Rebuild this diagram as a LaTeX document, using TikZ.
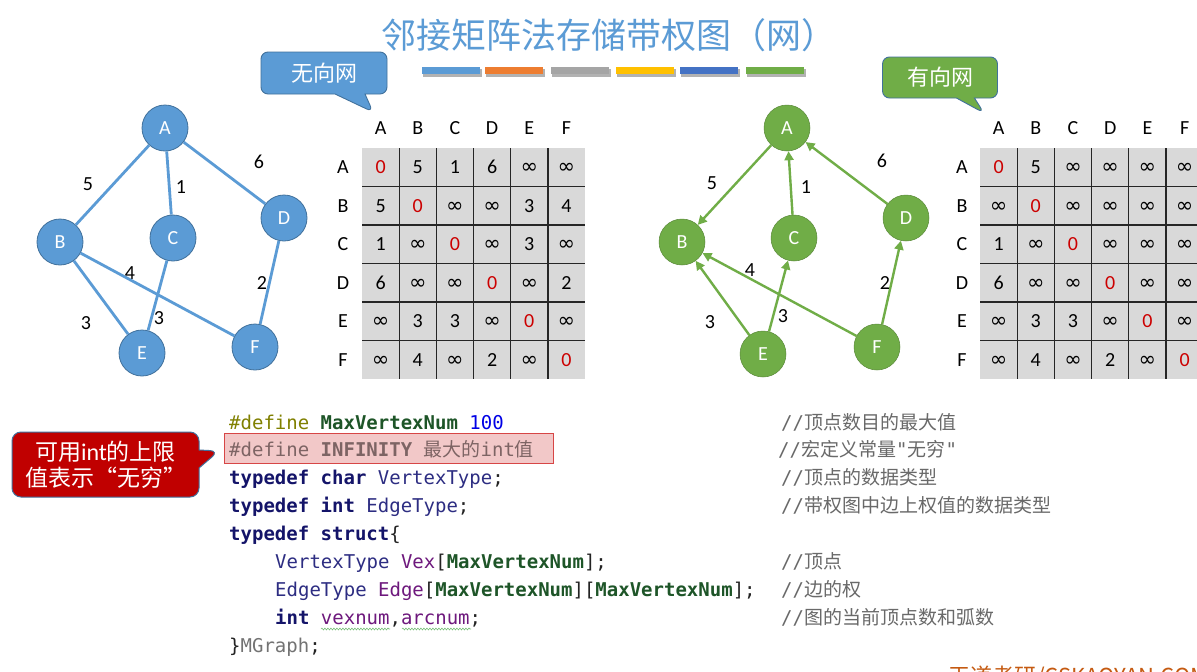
\documentclass[tikz,border=0pt]{standalone}
\usepackage{fontspec}
\usetikzlibrary{arrows.meta,shapes.callouts,decorations.pathmorphing}
\setmainfont{Carlito}
\newfontfamily\cjk{Noto Sans CJK SC}
\newfontfamily\mono{DejaVu Sans Mono}
\newfontfamily\symf{DejaVu Sans}
\definecolor{lblue}{RGB}{91,155,213}
\definecolor{bborder}{RGB}{65,113,156}
\definecolor{lgreen}{RGB}{112,173,71}
\definecolor{gborder}{RGB}{84,130,53}
\definecolor{cellgray}{RGB}{217,217,217}
\definecolor{zred}{RGB}{204,0,0}
\definecolor{barA}{RGB}{91,155,213}
\definecolor{barB}{RGB}{237,125,49}
\definecolor{barC}{RGB}{165,165,165}
\definecolor{barD}{RGB}{255,192,0}
\definecolor{barE}{RGB}{68,114,196}
\definecolor{barF}{RGB}{112,173,71}
\definecolor{calred}{RGB}{192,0,0}
\definecolor{cdef}{RGB}{128,128,0}
\definecolor{cmac}{RGB}{30,85,40}
\definecolor{cnum}{RGB}{0,0,230}
\definecolor{ckw}{RGB}{20,20,105}
\definecolor{ctype}{RGB}{45,45,130}
\definecolor{cvar}{RGB}{110,25,125}
\definecolor{cpunct}{RGB}{35,35,35}
\definecolor{cinf}{RGB}{125,100,100}
\definecolor{infbg}{RGB}{242,200,200}
\definecolor{infbd}{RGB}{215,70,70}
\definecolor{ccom}{RGB}{105,105,105}
\definecolor{cgray}{RGB}{115,115,115}
\definecolor{wavy}{RGB}{120,190,120}
\definecolor{wm}{RGB}{197,90,17}
\protected\def\zr{\textcolor{zred}{0}}
\protected\def\iy{{\symf\fontsize{21}{22}\selectfont ∞}}
\begin{document}
\begin{tikzpicture}[x=1pt,y=-1pt,
  vtxL/.style={circle,fill=lblue,draw=bborder,line width=0.8pt,minimum size=46pt,inner sep=0pt,text=white,font=\fontsize{20}{24}\selectfont},
  vtxR/.style={circle,fill=lgreen,draw=lgreen!80!black,line width=0.5pt,minimum size=46pt,inner sep=0pt,text=white,font=\fontsize{20}{24}\selectfont},
  edgeL/.style={draw=lblue,line width=2.8pt},
  edgeR/.style={draw=lgreen,line width=2.4pt,-{Triangle[length=9pt,width=9pt]}},
  wlab/.style={inner sep=0pt,font=\fontsize{20}{24}\selectfont},
  lab/.style={inner sep=0pt,text height=13pt,text depth=0pt,font=\fontsize{20}{24}\selectfont},
  cellt/.style={inner sep=0pt,text height=13pt,text depth=0pt,font=\fontsize{20}{24}\selectfont},
  gridline/.style={draw=black!85,line width=1.3pt},
  code/.style={anchor=base west,inner sep=0pt,font=\mono\fontsize{19}{22}\selectfont},
  comm/.style={anchor=base west,inner sep=0pt,text=ccom,font=\cjk\fontsize{19}{22}\selectfont},
  bar/.style={minimum width=58pt,minimum height=7pt,inner sep=0pt}
]
\useasboundingbox (0,0) rectangle (1197,672);
\fill[white] (0,0) rectangle (1197,672);

% title
\node[text=lblue,font=\cjk\fontsize{35}{40}\selectfont,inner sep=0pt] (title) at (609,35) {邻接矩阵法存储带权图（网）};
% colour bars
\foreach \c/\x [count=\i] in {barA/451,barB/514,barC/580,barD/645,barE/709,barF/775}{
  \fill[black!30] (\x-28,69) rectangle (\x+31,77);
  \node[bar,fill=\c] (bar\i) at (\x,70.5) {};
}

% callouts
\node[rectangle callout,rounded corners=7pt,fill=lblue,draw=bborder,line width=0.9pt,
  minimum width=126pt,minimum height=42pt,callout absolute pointer={(373,112)},callout pointer width=30pt,
  text=white,font=\cjk\fontsize{22}{26}\selectfont] (cL) at (324,73) {无向网};
\node[rectangle callout,rounded corners=7pt,fill=lgreen,draw=bborder,line width=0.9pt,
  minimum width=115pt,minimum height=41pt,callout absolute pointer={(984,113)},callout pointer width=18pt,
  text=white,font=\cjk\fontsize{22}{26}\selectfont] (cR) at (940,77.5) {有向网};

% left graph
\node[vtxL] (A) at (165,128) {A};
\node[vtxL] (B) at (60,242) {B};
\node[vtxL] (C) at (173,238) {C};
\node[vtxL] (D) at (284,218) {D};
\node[vtxL] (E) at (142,353) {E};
\node[vtxL] (F) at (255,347) {F};
\draw[edgeL] (A) -- (B);
\draw[edgeL] (A) -- (C);
\draw[edgeL] (A) -- (D);
\draw[edgeL] (B) -- (E);
\draw[edgeL] (B) -- (F);
\draw[edgeL] (C) -- (E);
\draw[edgeL] (D) -- (F);
\node[wlab] (wAB) at (88,184) {5};
\node[wlab] (wAC) at (181,187) {1};
\node[wlab] (wAD) at (259,162) {6};
\node[wlab] (wBF) at (130,273) {4};
\node[wlab] (wDF) at (262,283) {2};
\node[wlab] (wBE) at (86,323) {3};
\node[wlab] (wCE) at (159,318) {3};

% right graph
\node[vtxR] (A2) at (787,128) {A};
\node[vtxR] (B2) at (682,242) {B};
\node[vtxR] (C2) at (794,238) {C};
\node[vtxR] (D2) at (906,218) {D};
\node[vtxR] (E2) at (763,354) {E};
\node[vtxR] (F2) at (877,347) {F};
\draw[edgeR] (A2) -- (B2);
\draw[edgeR] (C2) -- (A2);
\draw[edgeR] (D2) -- (A2);
\draw[edgeR] (E2) -- (B2);
\draw[edgeR] (E2) -- (C2);
\draw[edgeR] (F2) -- (B2);
\draw[edgeR] (F2) -- (D2);
\node[wlab] (wAB2) at (712,183) {5};
\node[wlab] (wCA2) at (806,187) {1};
\node[wlab] (wDA2) at (882,161) {6};
\node[wlab] (wFB2) at (750,270) {4};
\node[wlab] (wFD2) at (885,283) {2};
\node[wlab] (wEB2) at (710,322) {3};
\node[wlab] (wEC2) at (783,316) {3};

% left matrix
\fill[cellgray] (362,148) rectangle (585,379);
\foreach \i in {1,...,5}{
  \draw[gridline] ({362+\i*37.17},148) -- ({362+\i*37.17},379);
  \draw[gridline] (362,{148+\i*38.5}) -- (585,{148+\i*38.5});
}
\foreach \rw [count=\r] in {{\zr,5,1,6,\iy,\iy},{5,\zr,\iy,\iy,3,4},{1,\iy,\zr,\iy,3,\iy},{6,\iy,\iy,\zr,\iy,2},{\iy,3,3,\iy,\zr,\iy},{\iy,4,\iy,2,\iy,\zr}}{
  \foreach \v [count=\c] in \rw {
    \node[cellt] (L\r-\c) at ({362+(\c-0.5)*37.17},{148+(\r-0.5)*38.5}) {\v};
  }
}
% right matrix
\fill[cellgray] (980,148) rectangle (1210,379);
\foreach \i in {1,...,6}{
  \draw[gridline] ({980+\i*37.2},148) -- ({980+\i*37.2},379);
}
\foreach \i in {1,...,5}{
  \draw[gridline] (980,{148+\i*38.5}) -- (1210,{148+\i*38.5});
}
\foreach \rw [count=\r] in {{\zr,5,\iy,\iy,\iy,\iy},{\iy,\zr,\iy,\iy,\iy,\iy},{1,\iy,\zr,\iy,\iy,\iy},{6,\iy,\iy,\zr,\iy,\iy},{\iy,3,3,\iy,\zr,\iy},{\iy,4,\iy,2,\iy,\zr}}{
  \foreach \v [count=\c] in \rw {
    \node[cellt] (R\r-\c) at ({980+(\c-0.5)*37.2},{148+(\r-0.5)*38.5}) {\v};
  }
}
\foreach \l [count=\i] in {A,B,C,D,E,F}{
  \node[lab] (LH\i) at ({362+(\i-0.5)*37.17},128) {\l};
  \node[lab] (LR\i) at (343,{148+(\i-0.5)*38.5}) {\l};
  \node[lab] (RH\i) at ({980+(\i-0.5)*37.2},128) {\l};
  \node[lab] (RR\i) at (962,{148+(\i-0.5)*38.5}) {\l};
}

% red callout
\node[rectangle callout,rounded corners=9pt,fill=calred,draw=bborder,line width=1pt,
  minimum width=187pt,minimum height=65pt,callout absolute pointer={(219,451)},callout pointer width=18pt,
  text=white,align=center,inner sep=0pt,font=\cjk\fontsize{23}{26}\selectfont] (rc) at (105.5,464.5)
  {可用{\rmfamily\fontsize{24}{26}\selectfont int}的上限\\值表示“无穷”};

% code
\node[draw=infbd,fill=infbg,line width=1pt,minimum width=329pt,minimum height=30pt,inner sep=0pt] (infbox) at (389,448) {};
\node[code] (l1) at (229,429) {{\color{cdef}\#define} {\color{cmac}\bfseries MaxVertexNum} {\color{cnum}100}};
\node[code,text=cinf] (l2) at (229,456) {\#define {\bfseries INFINITY} {\cjk 最大的}int{\cjk 值}};
\node[code] (l3) at (229,484) {{\color{ckw}\bfseries typedef} {\color{ckw}\bfseries char} {\color{ctype}VertexType}{\color{cpunct};}};
\node[code] (l4) at (229,512) {{\color{ckw}\bfseries typedef} {\color{ckw}\bfseries int} {\color{ctype}EdgeType}{\color{cpunct};}};
\node[code] (l5) at (229,540) {{\color{ckw}\bfseries typedef} {\color{ckw}\bfseries struct}{\color{cpunct}\{}};
\node[code] (l6) at (275,568) {{\color{ctype}VertexType} {\color{cvar}Vex}{\color{cpunct}[}{\color{cmac}\bfseries MaxVertexNum}{\color{cpunct}];}};
\node[code] (l7) at (275,596) {{\color{ctype}EdgeType} {\color{cvar}Edge}{\color{cpunct}[}{\color{cmac}\bfseries MaxVertexNum}{\color{cpunct}][}{\color{cmac}\bfseries MaxVertexNum}{\color{cpunct}];}};
\node[code] (l8) at (275,624) {{\color{ckw}\bfseries int} {\color{cvar}vexnum}{\color{cpunct},}{\color{cvar}arcnum}{\color{cpunct};}};
\node[code] (l9) at (229,652) {{\color{cpunct}\}}{\color{cgray}MGraph}{\color{cpunct};}};
\draw[wavy,line width=0.6pt,decorate,decoration={snake,amplitude=0.9pt,segment length=3pt}] (321,629) -- (390,629);
\draw[wavy,line width=0.6pt,decorate,decoration={snake,amplitude=0.9pt,segment length=3pt}] (402,629) -- (471,629);

% comments
\node[comm] (c1) at (781,429) {{\mono //}顶点数目的最大值};
\node[comm] (c2) at (778,456) {{\mono //}宏定义常量{\mono "}无穷{\mono "}};
\node[comm] (c3) at (781,484) {{\mono //}顶点的数据类型};
\node[comm] (c4) at (781,512) {{\mono //}带权图中边上权值的数据类型};
\node[comm] (c6) at (781,568) {{\mono //}顶点};
\node[comm] (c7) at (781,596) {{\mono //}边的权};
\node[comm] (c8) at (781,624) {{\mono //}图的当前顶点数和弧数};

% watermark
\node[anchor=base west,inner sep=0pt,text=wm,font=\cjk\fontsize{22}{26}\selectfont] (wmark) at (948,684) {王道考研/CSKAOYAN.COM};
\end{tikzpicture}
\end{document}
